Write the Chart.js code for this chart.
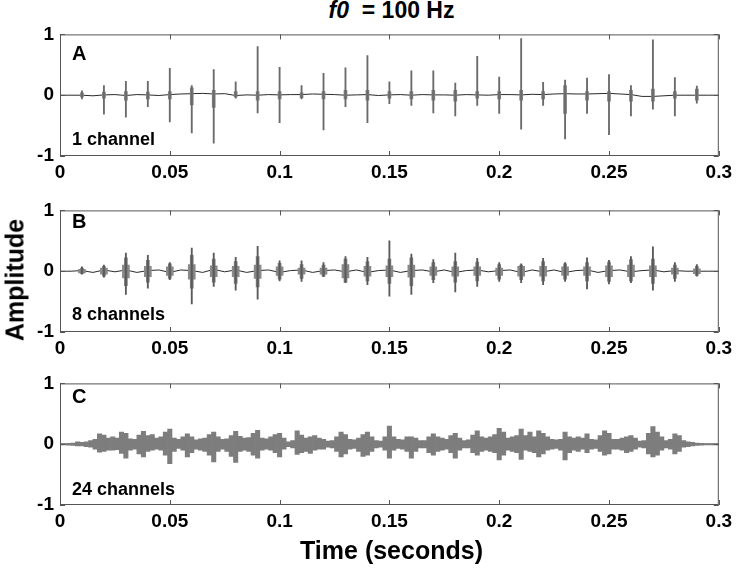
<!DOCTYPE html>
<html>
<head>
<meta charset="utf-8">
<script src="https://cdn.jsdelivr.net/npm/chart.js@4.4.1/dist/chart.umd.min.js"></script>
<style>
  body { margin: 0; background: #fff; }
  #wrap { position: relative; width: 737px; height: 571px; font-family: "Liberation Sans", Arial, sans-serif; font-weight: bold; color: #000; }
  canvas { position: absolute; left: 0; }
  .txt { position: absolute; line-height: 1; white-space: pre; }
</style>
</head>
<body>
<div id="wrap">
  <div class="txt" style="left:0;width:783px;text-align:center;top:-1px;font-size:23px;"><i>f0</i>  = 100 Hz</div>
  <canvas id="cA" width="737" height="173" style="top:17px"></canvas>
  <canvas id="cB" width="737" height="173" style="top:193px"></canvas>
  <canvas id="cC" width="737" height="173" style="top:366px"></canvas>
  <div class="txt" style="left:72px;top:43px;font-size:20px;">A</div>
  <div class="txt" style="left:72px;top:130px;font-size:18px;">1 channel</div>
  <div class="txt" style="left:72px;top:211px;font-size:20px;">B</div>
  <div class="txt" style="left:72px;top:305px;font-size:18px;">8 channels</div>
  <div class="txt" style="left:72px;top:386px;font-size:20px;">C</div>
  <div class="txt" style="left:72px;top:480px;font-size:18px;">24 channels</div>
  <div class="txt" style="left:15px;top:280px;font-size:25px;transform:translate(-50%,-50%) rotate(-90deg);">Amplitude</div>
  <div class="txt" style="left:0;width:783px;text-align:center;top:538px;font-size:25px;">Time (seconds)</div>
</div>
<script>
// pulse times (one glottal pulse every 10 ms)
const pulseTimes = [0.01, 0.02, 0.03, 0.04, 0.05, 0.06, 0.07, 0.08, 0.09, 0.10,
  0.11, 0.12, 0.13, 0.14, 0.15, 0.16, 0.17, 0.18, 0.19, 0.20,
  0.21, 0.22, 0.23, 0.24, 0.25, 0.26, 0.27, 0.28, 0.29];
const xTicks = [0, 0.05, 0.1, 0.15, 0.2, 0.25, 0.3];
const yTicks = [-1, 0, 1];

// A: 1 channel - peak of each spike, and the small blob around it
const aSpikeHi = [0.07, 0.16, 0.23, 0.23, 0.44, 0.16, 0.42, 0.22, 0.80, 0.46,
  0.16, 0.36, 0.45, 0.65, 0.22, 0.40, 0.40, 0.20, 0.64, 0.30,
  0.93, 0.21, 0.25, 0.28, 0.34, 0.16, 0.91, 0.29, 0.15];
const aSpikeLo = [-0.06, -0.31, -0.36, -0.19, -0.44, -0.62, -0.79, -0.05, -0.29, -0.45,
  -0.06, -0.57, -0.19, -0.45, -0.14, -0.17, -0.29, -0.34, -0.17, -0.30,
  -0.56, -0.17, -0.72, -0.30, -0.65, -0.34, -0.23, -0.34, -0.13];
const aBlobHi = [0.04, 0.05, 0.06, 0.05, 0.06, 0.12, 0.08, 0.06, 0.06, 0.06,
  0.04, 0.06, 0.08, 0.08, 0.06, 0.06, 0.08, 0.08, 0.06, 0.06,
  0.08, 0.06, 0.16, 0.06, 0.06, 0.08, 0.10, 0.06, 0.10];
const aBlobLo = [-0.03, -0.05, -0.08, -0.06, -0.06, -0.16, -0.20, -0.03, -0.08, -0.06,
  -0.04, -0.06, -0.06, -0.08, -0.05, -0.06, -0.08, -0.10, -0.05, -0.06,
  -0.08, -0.06, -0.30, -0.08, -0.10, -0.10, -0.10, -0.05, -0.08];
// baseline between pulses, every 5 ms
const aBase = [0, 0, 0, -0.01, 0.005, 0.01, -0.005, 0.01, 0.005, -0.005,
  0.01, 0.02, 0.025, 0.03, 0.02, 0.025, -0.005, 0.005, 0, 0.01,
  0.005, 0.01, 0.01, 0.02, 0.015, 0.01, 0, 0.005, 0.01, -0.005,
  0.005, 0.01, 0, 0.01, 0.005, 0.005, 0, 0.01, 0.005, 0,
  0.01, 0.01, 0.005, 0.015, 0.01, 0.02, 0.025, 0.02, 0.02, 0.025,
  0.03, 0.02, 0.01, -0.02, -0.02, -0.01, 0, 0, 0, 0,
  0];

// B: 8 channels - spike, core of the burst, wider tail of the burst
const bSpikeHi = [0.07, 0.10, 0.30, 0.26, 0.14, 0.38, 0.30, 0.23, 0.41, 0.17,
  0.17, 0.14, 0.24, 0.23, 0.50, 0.28, 0.19, 0.30, 0.21, 0.14,
  0.12, 0.21, 0.14, 0.22, 0.18, 0.24, 0.40, 0.14, 0.11];
const bSpikeLo = [-0.05, -0.10, -0.38, -0.28, -0.14, -0.54, -0.25, -0.31, -0.46, -0.16,
  -0.17, -0.09, -0.19, -0.22, -0.41, -0.38, -0.19, -0.34, -0.25, -0.17,
  -0.19, -0.22, -0.17, -0.29, -0.21, -0.19, -0.31, -0.17, -0.08];
const bCoreHi = [0.05, 0.08, 0.22, 0.18, 0.12, 0.26, 0.20, 0.16, 0.24, 0.13,
  0.11, 0.10, 0.20, 0.16, 0.20, 0.22, 0.14, 0.16, 0.15, 0.11,
  0.10, 0.16, 0.12, 0.14, 0.15, 0.19, 0.20, 0.10, 0.08];
const bCoreLo = [-0.04, -0.08, -0.24, -0.18, -0.12, -0.28, -0.18, -0.20, -0.26, -0.13,
  -0.12, -0.08, -0.18, -0.16, -0.20, -0.24, -0.14, -0.18, -0.16, -0.13,
  -0.14, -0.16, -0.13, -0.16, -0.17, -0.16, -0.20, -0.12, -0.07];
const bBodyHi = [0.03, 0.05, 0.10, 0.08, 0.07, 0.11, 0.09, 0.08, 0.10, 0.07,
  0.05, 0.05, 0.11, 0.08, 0.09, 0.10, 0.07, 0.07, 0.07, 0.05,
  0.08, 0.08, 0.07, 0.07, 0.09, 0.10, 0.09, 0.05, 0.04];
const bBodyLo = [-0.03, -0.05, -0.11, -0.09, -0.07, -0.13, -0.09, -0.09, -0.12, -0.07,
  -0.05, -0.05, -0.11, -0.08, -0.09, -0.10, -0.07, -0.08, -0.07, -0.07,
  -0.08, -0.08, -0.07, -0.07, -0.09, -0.09, -0.09, -0.05, -0.04];
const bBase = [0, 0, 0.01, -0.02, 0.02, -0.01, 0.02, -0.02, 0.01, 0.02,
  -0.02, 0.02, 0.01, -0.02, 0.03, -0.01, 0.02, -0.02, 0.01, 0.02,
  -0.02, 0.01, 0.02, -0.02, 0.01, 0.02, -0.01, 0.02, -0.02, 0.01,
  0.02, -0.02, 0.01, 0.02, -0.01, 0.02, -0.02, 0.01, 0.02, -0.01,
  0.01, 0.02, -0.02, 0.02, -0.01, 0.02, -0.02, 0.01, 0.02, -0.02,
  0.01, 0.02, -0.01, 0.01, 0.02, -0.01, 0.01, 0, 0, 0,
  0];
const baseStep = 0.005;

// C: 24 channels - envelope every 2 ms
const cStep = 0.002;
const cHi = [0.01, 0.01, 0.015, 0.02, 0.04, 0.03, 0.04, 0.06, 0.08, 0.17,
  0.15, 0.10, 0.12, 0.10, 0.20, 0.18, 0.09, 0.08, 0.15, 0.21,
  0.14, 0.16, 0.10, 0.12, 0.20, 0.25, 0.10, 0.08, 0.12, 0.17,
  0.12, 0.07, 0.09, 0.10, 0.16, 0.20, 0.12, 0.08, 0.09, 0.14,
  0.21, 0.13, 0.10, 0.11, 0.18, 0.23, 0.10, 0.09, 0.12, 0.16,
  0.18, 0.10, 0.04, 0.06, 0.22, 0.15, 0.10, 0.12, 0.14, 0.10,
  0.08, 0.05, 0.06, 0.12, 0.20, 0.16, 0.08, 0.07, 0.10, 0.16,
  0.20, 0.12, 0.06, 0.05, 0.12, 0.30, 0.12, 0.08, 0.07, 0.12,
  0.12, 0.10, 0.06, 0.06, 0.12, 0.17, 0.12, 0.10, 0.08, 0.14,
  0.18, 0.10, 0.06, 0.07, 0.15, 0.22, 0.12, 0.10, 0.12, 0.16,
  0.26, 0.20, 0.10, 0.12, 0.14, 0.25, 0.14, 0.20, 0.12, 0.22,
  0.18, 0.12, 0.08, 0.07, 0.08, 0.20, 0.12, 0.10, 0.12, 0.10,
  0.17, 0.08, 0.07, 0.14, 0.22, 0.18, 0.08, 0.08, 0.10, 0.12,
  0.14, 0.10, 0.05, 0.06, 0.18, 0.29, 0.20, 0.12, 0.06, 0.08,
  0.17, 0.14, 0.06, 0.04, 0.03, 0.02, 0.015, 0.01, 0.01, 0.01,
  0.01];
const cLo = [-0.01, -0.01, -0.015, -0.02, -0.03, -0.03, -0.04, -0.05, -0.08, -0.13,
  -0.12, -0.10, -0.10, -0.09, -0.15, -0.23, -0.10, -0.08, -0.16, -0.21,
  -0.12, -0.10, -0.08, -0.10, -0.18, -0.32, -0.12, -0.07, -0.10, -0.21,
  -0.14, -0.08, -0.10, -0.12, -0.18, -0.29, -0.12, -0.08, -0.12, -0.20,
  -0.30, -0.12, -0.10, -0.12, -0.18, -0.23, -0.10, -0.08, -0.10, -0.14,
  -0.21, -0.08, -0.04, -0.06, -0.17, -0.14, -0.12, -0.15, -0.10, -0.08,
  -0.08, -0.05, -0.06, -0.12, -0.21, -0.16, -0.08, -0.07, -0.12, -0.20,
  -0.18, -0.12, -0.06, -0.05, -0.10, -0.23, -0.10, -0.07, -0.08, -0.12,
  -0.23, -0.12, -0.06, -0.06, -0.14, -0.18, -0.12, -0.10, -0.08, -0.14,
  -0.23, -0.10, -0.06, -0.06, -0.14, -0.18, -0.12, -0.10, -0.12, -0.14,
  -0.26, -0.18, -0.10, -0.12, -0.14, -0.25, -0.10, -0.12, -0.14, -0.21,
  -0.16, -0.10, -0.08, -0.07, -0.10, -0.26, -0.14, -0.10, -0.12, -0.08,
  -0.14, -0.08, -0.07, -0.12, -0.18, -0.16, -0.08, -0.08, -0.10, -0.14,
  -0.12, -0.08, -0.05, -0.06, -0.16, -0.21, -0.18, -0.10, -0.06, -0.08,
  -0.16, -0.12, -0.05, -0.04, -0.03, -0.02, -0.015, -0.01, -0.01, -0.01,
  -0.01];

const tickFont = { family: "'Liberation Sans', Arial, sans-serif", size: 19, weight: 'bold' };

// box round the plot and the little inward tick marks
const frame = {
  id: 'frame',
  afterDatasetsDraw(chart) {
    const { ctx, chartArea: a, scales: { x, y } } = chart;
    ctx.save();
    ctx.strokeStyle = '#555';
    ctx.lineWidth = 1;
    ctx.strokeRect(a.left + 0.5, a.top + 0.5, a.right - a.left - 1, a.bottom - a.top - 1);
    ctx.beginPath();
    xTicks.forEach(v => {
      const px = Math.round(x.getPixelForValue(v)) + 0.5;
      ctx.moveTo(px, a.top); ctx.lineTo(px, a.top + 5);
      ctx.moveTo(px, a.bottom); ctx.lineTo(px, a.bottom - 5);
    });
    yTicks.forEach(v => {
      const py = Math.round(y.getPixelForValue(v)) + 0.5;
      ctx.moveTo(a.left, py); ctx.lineTo(a.left + 5, py);
      ctx.moveTo(a.right, py); ctx.lineTo(a.right - 5, py);
    });
    ctx.stroke();
    ctx.restore();
  }
};

function pairs(times, lo, hi) {
  return times.map((t, i) => ({ x: t, y: [lo[i], hi[i]] }));
}
function series(step, vals) {
  return vals.map((v, i) => ({ x: +(i * step).toFixed(4), y: v }));
}
function bars(data, color, thick) {
  return { type: 'bar', data, backgroundColor: color, barThickness: thick, grouped: false };
}
function baseLine(data) {
  return { type: 'line', data, borderColor: '#2a2a2a', borderWidth: 1, pointRadius: 0, tension: 0 };
}

function makePanel(id, datasets) {
  new Chart(document.getElementById(id), {
    type: 'bar',
    data: { datasets },
    options: {
      responsive: false,
      animation: false,
      layout: { padding: { top: 10, right: 14, left: 0, bottom: 0 } },
      plugins: { legend: { display: false }, tooltip: { enabled: false } },
      scales: {
        x: {
          type: 'linear', min: 0, max: 0.3, offset: false,
          afterFit: s => { s.height = 34; },
          afterBuildTicks: s => { s.ticks = xTicks.map(v => ({ value: v })); },
          grid: { display: false, drawTicks: false },
          border: { display: false },
          ticks: { color: '#000', font: tickFont, padding: 5, maxRotation: 0,
            callback: v => String(parseFloat(v.toFixed(2))) }
        },
        y: {
          min: -1, max: 1,
          afterFit: s => { s.width = 60; },
          afterBuildTicks: s => { s.ticks = yTicks.map(v => ({ value: v })); },
          grid: { display: false, drawTicks: false },
          border: { display: false },
          ticks: { color: '#000', font: tickFont, padding: 6, callback: v => String(v) }
        }
      }
    },
    plugins: [frame]
  });
}

makePanel('cA', [
  bars(pairs(pulseTimes, aSpikeLo, aSpikeHi), '#6a6a6a', 1.2),
  bars(pairs(pulseTimes, aBlobLo, aBlobHi), '#808080', 3),
  baseLine(series(baseStep, aBase))
]);
makePanel('cB', [
  bars(pairs(pulseTimes, bSpikeLo, bSpikeHi), '#5a5a5a', 1.2),
  bars(pairs(pulseTimes, bCoreLo, bCoreHi), '#7d7d7d', 3),
  bars(pairs(pulseTimes, bBodyLo, bBodyHi), '#8a8a8a', 7),
  baseLine(series(baseStep, bBase))
]);
makePanel('cC', [
  bars(series(cStep, cHi).map((p, i) => ({ x: p.x, y: [cLo[i], cHi[i]] })), '#7d7d7d', 4.41),
  baseLine(series(baseStep, new Array(61).fill(0)))
]);
</script>
</body>
</html>
